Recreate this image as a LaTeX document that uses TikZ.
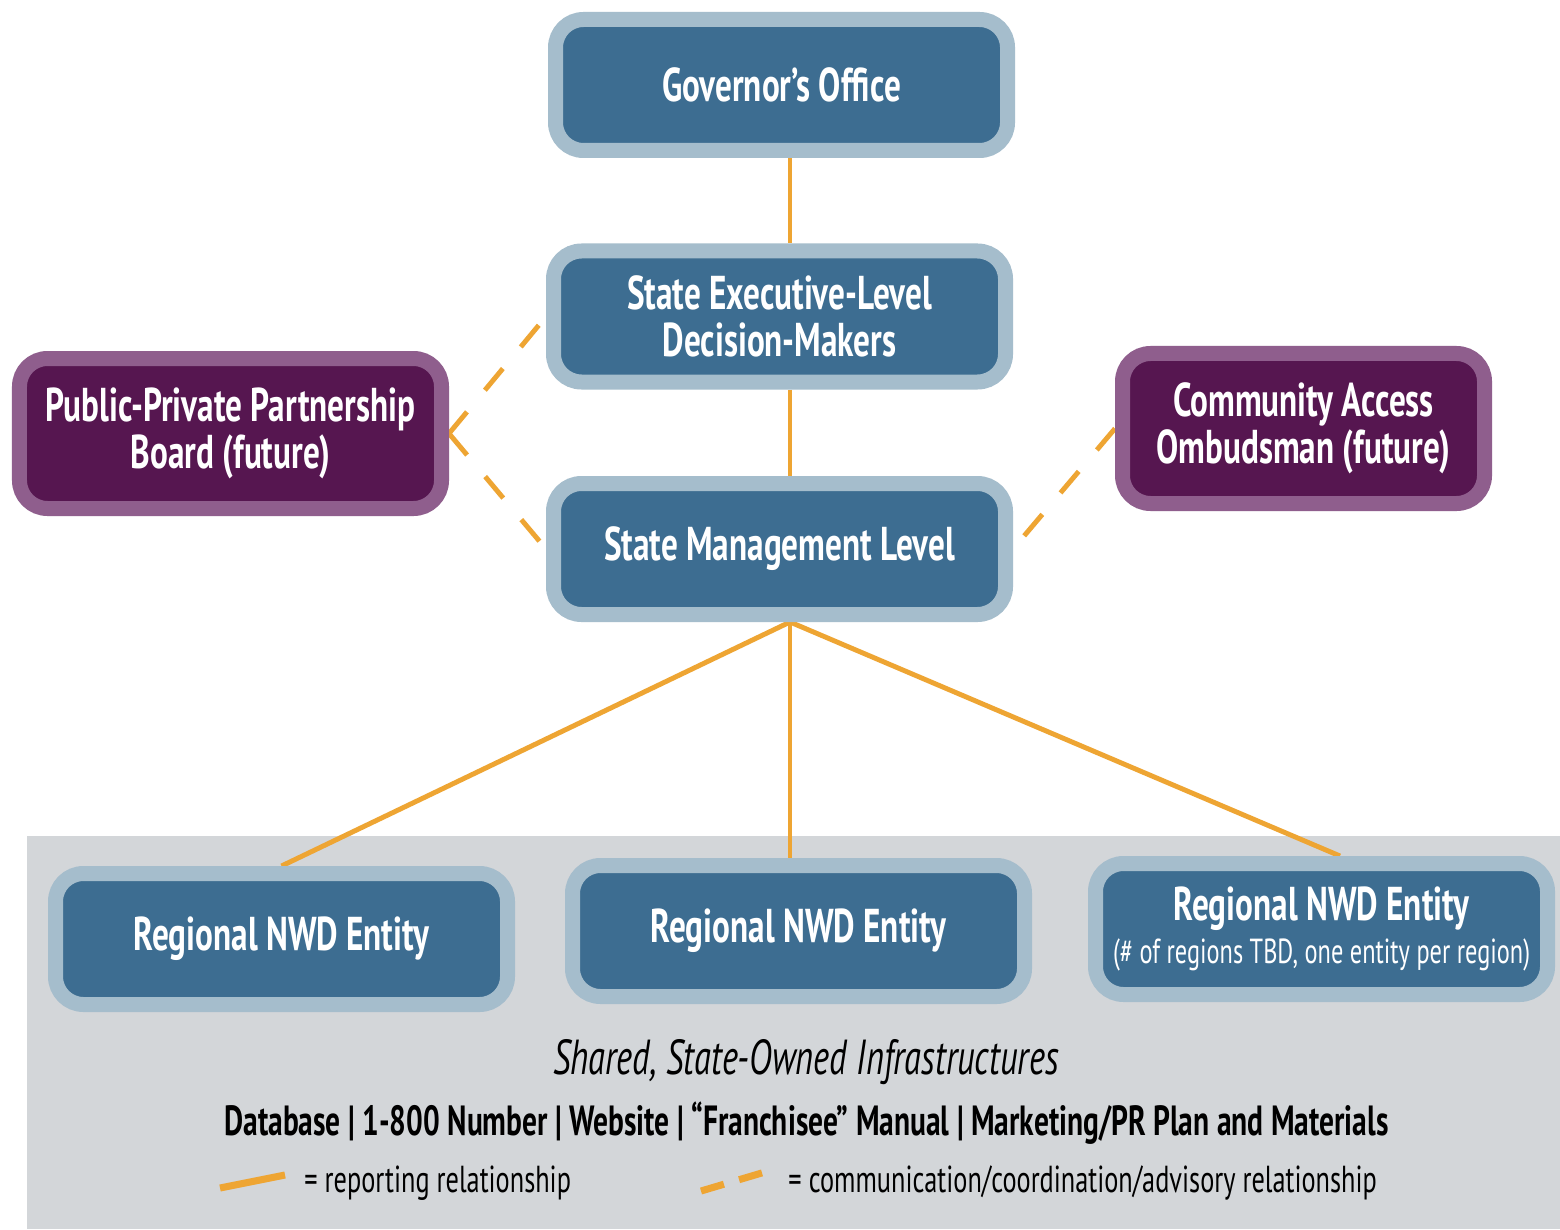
\documentclass[tikz,border=0pt]{standalone}
\usepackage{fontspec}
\setmainfont[FakeStretch=0.7]{PT Sans}
\usetikzlibrary{backgrounds}
\definecolor{boxFill}{HTML}{3D6D91}
\definecolor{boxRim}{HTML}{A5BDCC}
\definecolor{futureFill}{HTML}{561650}
\definecolor{futureRim}{HTML}{8F5E8D}
\definecolor{bandGray}{HTML}{D3D6D9}
\definecolor{lineOrange}{HTML}{EEA533}
\tikzset{
  level/.style={draw=boxRim, fill=boxFill, line width=1.5mm, rounded corners=2.8mm,
    minimum width=4.52cm, minimum height=1.31cm, inner sep=0pt, align=center,
    text=white, font=\bfseries\fontsize{13.5}{13.4}\selectfont},
  future/.style={level, draw=futureRim, fill=futureFill, minimum height=1.5cm},
  report/.style={draw=lineOrange, line width=1.4pt},
  advise/.style={report, dash pattern=on 8pt off 8pt},
}

\begin{document}
\begin{tikzpicture}
\begin{scope}[on background layer]
\fill[white] (0,0) rectangle (15.6,12.29);
\fill[bandGray] (0.27,0) rectangle (15.6,3.93);
\end{scope}
\useasboundingbox (0,0) rectangle (15.6,12.29);

% state levels
\node[level] (gov) at (7.815,11.44) {Governor’s Office};
\node[level] (exec) at (7.795,9.125) {State Executive-Level\\Decision-Makers};
\node[level] (mgmt) at (7.795,6.80) {State Management Level};

% future advisory bodies
\node[future, minimum width=4.22cm] (ppp) at (2.305,7.955) {Public-Private Partnership\\Board (future)};
\node[future, minimum width=3.62cm] (cao) at (13.035,8.005) {Community Access\\Ombudsman (future)};

% regions
\node[level] (reg1) at (2.815,2.90) {Regional NWD Entity};
\node[level] (reg2) at (7.985,2.98) {Regional NWD Entity};
\node[level] (reg3) at (13.215,3.00) {Regional NWD Entity\\[-1pt]
  {\mdseries\fontsize{9.9}{11}\selectfont(\# of regions TBD, one entity per region)}};

\path (mgmt.south) ++(1.05mm,0) coordinate (hub);

\begin{scope}[on background layer]
\draw[report] (gov.south -| hub) -- (exec.north -| hub);
\draw[report] (exec.south -| hub) -- (mgmt.north -| hub);
\draw[report] (hub) -- (reg1.north);
\draw[report] (hub) -- (reg2.north -| hub);
\draw[report] (hub) -- ([xshift=1.85mm]reg3.north);
\draw[advise] (ppp.east) -- (exec.west);
\draw[advise] (ppp.east) -- (mgmt.west);
\draw[advise] (cao.west) -- (mgmt.east);
\end{scope}

% infrastructure band
\node (shared) at (8.06,1.67) {\itshape\fontsize{14}{16}\selectfont Shared, State-Owned Infrastructures};
\node (assets) at (8.065,1.06) {\bfseries\fontsize{12}{14}\selectfont Database | 1-800 Number | Website | “Franchisee” Manual | Marketing/PR Plan and Materials};

% legend
\draw[report, line width=2pt] (2.20,0.41) -- (2.85,0.54);
\node[anchor=west, font=\fontsize{10.7}{13}\selectfont] (keyrep) at (2.92,0.46) {= reporting relationship};
\draw[report, line width=2pt, dash pattern=on 6.8pt off 4.5pt] (7.01,0.38) -- (7.65,0.57);
\node[anchor=west, font=\fontsize{10.7}{13}\selectfont] (keyadv) at (7.76,0.46) {= communication/coordination/advisory relationship};
\end{tikzpicture}
\end{document}
